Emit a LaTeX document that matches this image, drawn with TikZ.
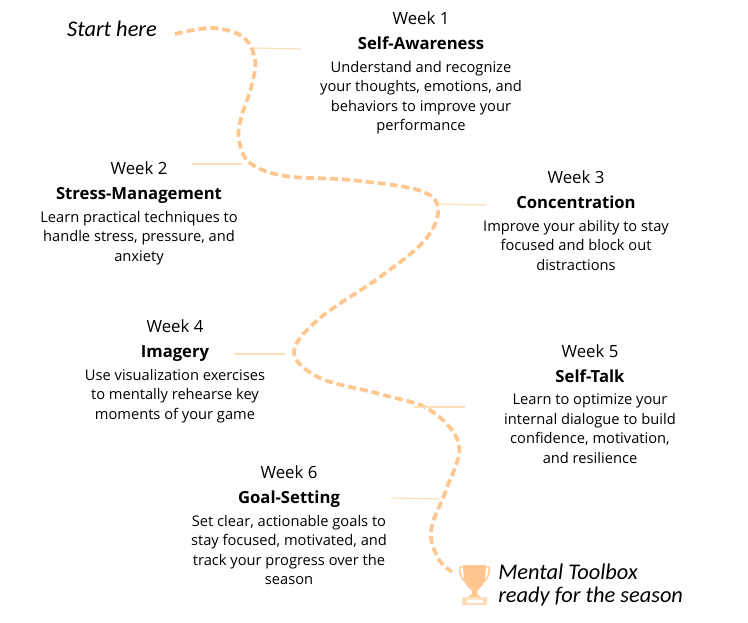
\documentclass[tikz,border=0pt]{standalone}
\usepackage{fontspec}
\usepackage{xcolor}
\setmainfont{Open Sans}
\newfontfamily\handfont{Carlito}
\usetikzlibrary{positioning}
\definecolor{TrailOrange}{HTML}{FFC78F}
\definecolor{LeaderOrange}{HTML}{FFDDB8}
\begin{document}
\begin{tikzpicture}[x=0.75pt,y=-0.75pt,node distance=0pt,
  week/.style={inner sep=0pt,font=\fontsize{12.6}{14}\selectfont},
  topic/.style={inner sep=0pt,text height=9.6pt,text depth=3pt,font=\fontsize{12.5}{14}\selectfont\bfseries,below=8.4pt of #1},
  blurb/.style={inner sep=0pt,align=center,font=\fontsize{11}{14.6}\selectfont,below=5.6pt of #1},
  hand/.style={inner sep=0pt,align=left,font=\fontsize{16.8}{16.8}\selectfont\handfont\itshape},
  trail/.style={TrailOrange,line width=2.8pt,dash pattern=on 6pt off 3pt},
  leader/.style={LeaderOrange,line width=0.9pt}]
  \useasboundingbox (0,0) rectangle (748,622);
  \node[hand] (start) at (112,29) {Start here};
  \node[week] (wk1) at (421,18) {Week 1};
  \node[topic=wk1] (aware) {Self-Awareness};
  \node[blurb=aware] (awaretext) {Understand and recognize\\your thoughts, emotions, and\\behaviors to improve your\\performance};
  \node[week] (wk2) at (139,168) {Week 2};
  \node[topic=wk2] (stress) {Stress-Management};
  \node[blurb=stress] (stresstext) {Learn practical techniques to\\handle stress, pressure, and\\anxiety};
  \node[week] (wk3) at (576,177) {Week 3};
  \node[topic=wk3] (conc) {Concentration};
  \node[blurb=conc] (conctext) {Improve your ability to stay\\focused and block out\\distractions};
  \node[week] (wk4) at (175,326) {Week 4};
  \node[topic=wk4] (imagery) {Imagery};
  \node[blurb=imagery] (imagerytext) {Use visualization exercises\\to mentally rehearse key\\moments of your game};
  \node[week] (wk5) at (590,351) {Week 5};
  \node[topic=wk5] (talk) {Self-Talk};
  \node[blurb=talk] (talktext) {Learn to optimize your\\internal dialogue to build\\confidence, motivation,\\and resilience};
  \node[week] (wk6) at (289,472) {Week 6};
  \node[topic=wk6] (goal) {Goal-Setting};
  \node[blurb=goal] (goaltext) {Set clear, actionable goals to\\stay focused, motivated, and\\track your progress over the\\season};
  \node[hand,anchor=west] (finish) at (498,585) {Mental Toolbox\\ready for the season};
  % winding trail
  \draw[trail] plot[smooth,tension=0.6] coordinates {(175,34) (212,28) (243,37) (255,60) (251,88) (241,118) (239,140) (250,163) (285,176) (350,180) (418,190) (438,208) (425,240) (380,277) (320,318) (294,352) (320,378) (380,394) (430,410) (459,445) (446,490) (431,530) (438,558) (452,572)};
  % leaders
  \coordinate (a1) at (254,48); \coordinate (a2) at (301,49);
  \coordinate (b1) at (192,164); \coordinate (b2) at (242,164);
  \coordinate (c1) at (438,204); \coordinate (c2) at (486,205);
  \coordinate (d1) at (234,354); \coordinate (d2) at (285,354);
  \coordinate (e1) at (414,407); \coordinate (e2) at (465,407);
  \coordinate (f1) at (391,498); \coordinate (f2) at (440,499);
  \draw[leader] (a1)--(a2);
  \draw[leader] (b1)--(b2);
  \draw[leader] (c1)--(c2);
  \draw[leader] (d1)--(d2);
  \draw[leader] (e1)--(e2);
  \draw[leader] (f1)--(f2);
  % trophy
  \fill[TrailOrange] (463,565) -- (486,565) -- (485,580) .. controls (483,587) and (478,589) .. (477,591) -- (477,594) -- (482,598) -- (467,598) -- (472,594) -- (472,591) .. controls (471,589) and (466,587) .. (464,580) -- cycle;
  \draw[TrailOrange,line width=1.1pt] (463,567) -- (460,567) .. controls (459,574) and (462,580) .. (466,582);
  \draw[TrailOrange,line width=1.1pt] (486,567) -- (489,567) .. controls (490,574) and (487,580) .. (483,582);
  \fill[LeaderOrange,even odd rule] (462,597) rectangle (487,605) (467,599.5) rectangle (483,603);
\end{tikzpicture}
\end{document}
